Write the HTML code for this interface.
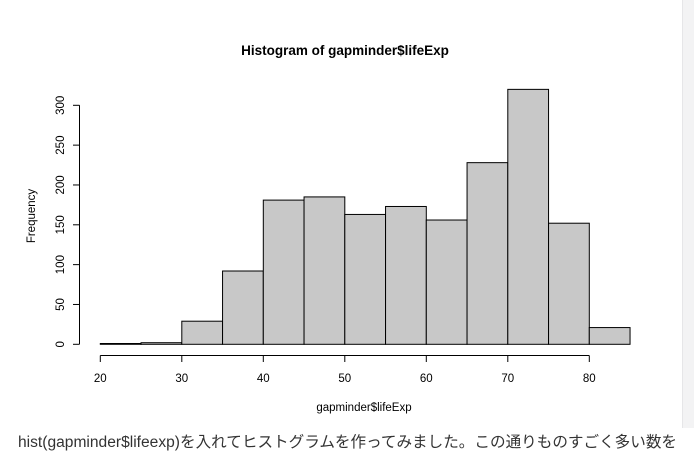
<!DOCTYPE html>
<html><head><meta charset="utf-8"><style>
html,body{margin:0;padding:0;background:#fff;}
svg{display:block;}
</style></head><body>
<svg id="chart" width="694" height="454" xmlns="http://www.w3.org/2000/svg">
<rect x="682" y="0" width="12" height="428" fill="#f3f3f4"/>
<line x1="682.5" y1="0" x2="682.5" y2="428" stroke="#e6e6e8"/>
<text x="345" y="55" text-anchor="middle" font-family="Liberation Sans, sans-serif" font-weight="bold" font-size="13.5" fill="#000">Histogram of gapminder$lifeExp</text>
<text x="364" y="411" text-anchor="middle" font-family="Liberation Sans, sans-serif" font-size="11.5" fill="#000">gapminder$lifeExp</text>
<text transform="translate(35,216) rotate(-90)" text-anchor="middle" font-family="Liberation Sans, sans-serif" font-size="11.5" fill="#000">Frequency</text>
<g id="bars"></g>
<g id="xaxis"></g>
<g id="yaxis"></g>
<text x="18" y="447" textLength="659" lengthAdjust="spacingAndGlyphs" font-family="Liberation Sans, 'Noto Sans CJK JP', sans-serif" font-size="15.5" fill="#333">hist(gapminder$lifeexp)を入れてヒストグラムを作ってみました。この通りものすごく多い数を</text>
</svg>
<script>
const binStarts = [20,25,30,35,40,45,50,55,60,65,70,75,80];
const counts = [1,2,29,92,181,185,163,173,156,228,320,152,21];
const xTicks = [20,30,40,50,60,70,80];
const yTicks = [0,50,100,150,200,250,300];
const binWidth = 5;
const NS = "http://www.w3.org/2000/svg";
function xs(v){return 100.3 + (v-20)*(489/60);}
function ys(v){return 344.3 - v*(239/300);}
function mk(tag, attrs, parent){const e=document.createElementNS(NS,tag);for(const k in attrs)e.setAttribute(k,attrs[k]);parent.appendChild(e);return e;}
const bars=document.getElementById('bars');
binStarts.forEach((b,i)=>{
  const x0=xs(b), x1=xs(b+binWidth), y=ys(counts[i]);
  const r=mk('rect',{x:x0,y:y,width:x1-x0,height:ys(0)-y,fill:'#c8c8c8',stroke:'#000','stroke-width':1},bars);
  
  
});
const xa=document.getElementById('xaxis');
const xl=mk('line',{x1:xs(xTicks[0]),x2:xs(xTicks[xTicks.length-1]),y1:355.5,y2:355.5,stroke:'#000'},xa);


xTicks.forEach(t=>{
  mk('line',{x1:xs(t),x2:xs(t),y1:355.5,y2:362,stroke:'#000'},xa);
  const tx=mk('text',{x:xs(t),y:382,'text-anchor':'middle','font-family':'Liberation Sans, sans-serif','font-size':'11.5'},xa);
  tx.textContent=t;
  
  
});
const ya=document.getElementById('yaxis');
const yl=mk('line',{x1:79.5,x2:79.5,y1:ys(yTicks[0]),y2:ys(yTicks[yTicks.length-1]),stroke:'#000'},ya);


yTicks.forEach(t=>{
  const y=ys(t);
  mk('line',{x1:73,x2:79.5,y1:y,y2:y,stroke:'#000'},ya);
  const tx=mk('text',{transform:'translate(64,'+y+') rotate(-90)','text-anchor':'middle','font-family':'Liberation Sans, sans-serif','font-size':'11.5'},ya);
  tx.textContent=t;
  
  
});
</script>
</body></html>
